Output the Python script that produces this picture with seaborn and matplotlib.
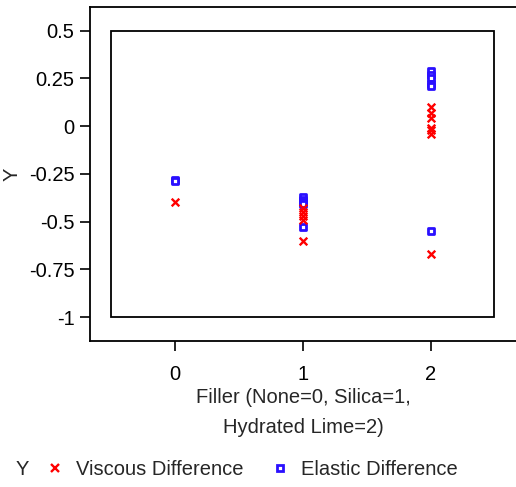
"""
Viscous vs elastic difference by filler type.
"""

import pandas as pd
import matplotlib

matplotlib.use("Agg")
import matplotlib.pyplot as plt
import seaborn as sns
from matplotlib.patches import Rectangle
from matplotlib.lines import Line2D

# filler codes: None=0, Silica=1, Hydrated Lime=2
viscous_filler = [0, 1, 1, 1, 1, 1, 2, 2, 2, 2, 2, 2, 2]
viscous_diff = [-0.40, -0.43, -0.45, -0.47, -0.49, -0.60,
                0.10, 0.07, 0.04, -0.01, -0.02, -0.04, -0.67]

elastic_filler = [0, 0, 1, 1, 1, 1, 1, 2, 2, 2, 2, 2, 2]
elastic_diff = [-0.28, -0.29, -0.37, -0.385, -0.40, -0.41, -0.53,
                0.29, 0.27, 0.25, 0.22, 0.21, -0.55]

x_ticks = [0, 1, 2]
y_ticks = [0.5, 0.25, 0, -0.25, -0.5, -0.75, -1]
y_tick_labels = ["0.5", "0.25", "0", "-0.25", "-0.5", "-0.75", "-1"]

sns.set_style("white")
plt.rcParams["font.family"] = ["Liberation Sans", "DejaVu Sans"]

RED = "#ff0000"
BLUE = "#2a10ff"
FS = 14.5

viscous = pd.DataFrame({"filler": viscous_filler, "y": viscous_diff})
elastic = pd.DataFrame({"filler": elastic_filler, "y": elastic_diff})

fig = plt.figure(figsize=(5.16, 4.87), dpi=100)
ax = fig.add_axes([0.174, 0.300, 0.826, 0.686])

# frame around the data region
ax.add_patch(Rectangle((-0.5, -1), 3, 1.5, fill=False, edgecolor="black",
                       linewidth=1.3, zorder=1))

sns.scatterplot(data=elastic, x="filler", y="y", ax=ax, marker="s",
                facecolor="white", edgecolor=BLUE, s=16, linewidth=2.0,
                zorder=3)
sns.scatterplot(data=viscous, x="filler", y="y", ax=ax, marker="x",
                color=RED, s=30, linewidth=1.7, zorder=4)

ax.set_xlim(-0.67, 2.67)
ax.set_ylim(-1.125, 0.625)
ax.set_xticks(x_ticks)
ax.set_xticklabels([str(t) for t in x_ticks])
ax.set_yticks(y_ticks)
ax.set_yticklabels(y_tick_labels)
ax.tick_params(axis="both", direction="out", length=7, width=1.2,
               labelsize=FS, colors="black", left=True, bottom=True)
ax.tick_params(axis="x", pad=10)
ax.tick_params(axis="y", pad=4)

for side in ["left", "bottom", "top"]:
    ax.spines[side].set_color("black")
    ax.spines[side].set_linewidth(1.3)
ax.spines["right"].set_visible(False)

ax.set_xlabel("Filler (None=0, Silica=1,\nHydrated Lime=2)", fontsize=FS,
              labelpad=3, linespacing=1.75)
ax.set_ylabel("Y", fontsize=FS, labelpad=5)

# legend row at the bottom
fig.text(0.030, 0.035, "Y", fontsize=FS, va="center")
handles = [
    Line2D([], [], marker="x", linestyle="none", color=RED,
           markersize=6, markeredgewidth=1.7),
    Line2D([], [], marker="s", linestyle="none", markerfacecolor="white",
           markeredgecolor=BLUE, markersize=4.5, markeredgewidth=2.0),
]
fig.legend(handles, ["Viscous Difference", "Elastic Difference"],
           loc="center left", bbox_to_anchor=(0.088, 0.035), ncol=2,
           frameon=False, fontsize=FS, handlelength=1.0, handletextpad=0.5,
           columnspacing=1.35, borderaxespad=0, borderpad=0)

fig.savefig("out.png", dpi=100)
